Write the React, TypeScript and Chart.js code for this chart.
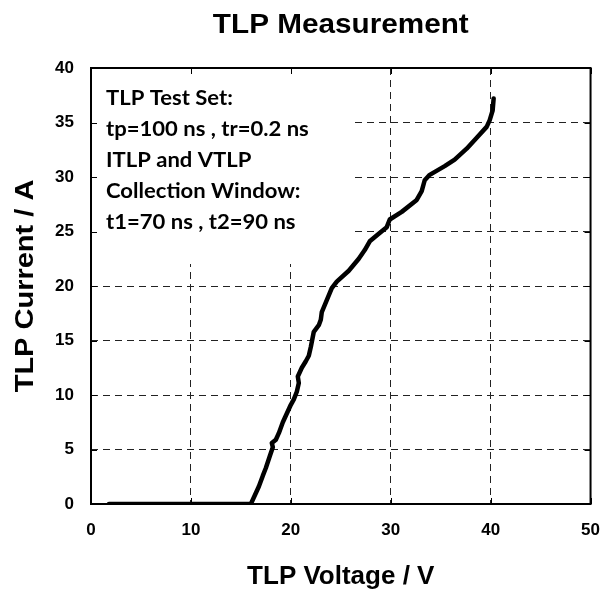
import React, { useEffect, useRef } from "react";
import { Chart, registerables } from "chart.js";

Chart.register(...registerables);

const chartTitle = "TLP Measurement";
const xAxisTitle = "TLP Voltage / V";
const yAxisTitle = "TLP Current / A";
const annotationLines = [
  "TLP Test Set:",
  "tp=100 ns , tr=0.2 ns",
  "ITLP and VTLP",
  "Collection Window:",
  "t1=70 ns , t2=90 ns",
];

const voltage = [
  1.8, 16.0, 16.4, 16.8, 17.2, 17.5, 17.9, 18.2, 18.1, 18.5, 18.8, 19.2, 19.6,
  20.0, 20.3, 20.6, 20.8, 20.7, 21.1, 21.5, 21.8, 22.0, 22.3, 22.8, 23.0, 23.1,
  23.6, 24.1, 24.6, 25.8, 26.8, 27.4, 27.9, 28.8, 29.6, 29.9, 31.1, 32.6, 33.1,
  33.4, 33.9, 35.4, 36.4, 37.6, 38.7, 39.6, 39.9, 40.2, 40.3,
];
const current = [
  0.0, 0.0, 0.8, 1.6, 2.6, 3.3, 4.4, 5.2, 5.6, 5.9, 6.5, 7.5, 8.3, 9.1, 9.6,
  10.3, 11.1, 11.7, 12.5, 13.1, 13.6, 14.4, 15.8, 16.4, 16.9, 17.6, 18.7, 19.8,
  20.4, 21.4, 22.5, 23.3, 24.1, 24.8, 25.4, 26.1, 26.8, 27.9, 28.7, 29.7, 30.2,
  31.0, 31.6, 32.6, 33.7, 34.6, 35.2, 36.1, 37.2,
];

const xMin = 0, xMax = 50, xStep = 10;
const yMin = 0, yMax = 40, yStep = 5;

const ARIAL = "'Liberation Sans', Arial, sans-serif";
const CALIBRI = "Lato, 'Open Sans', sans-serif";

const overlayPlugin = {
  id: "overlay",
  beforeDatasetsDraw(chart: any) {
    const { ctx, chartArea: a, scales } = chart;
    ctx.save();
    // white annotation box hiding grid
    ctx.fillStyle = "#ffffff";
    ctx.fillRect(a.left + 1, a.top + 1, 258, 195);
    // inward tick marks
    ctx.strokeStyle = "#000";
    ctx.lineWidth = 1;
    const tl = 6;
    scales.y.ticks.forEach((t: any) => {
      const y = Math.round(scales.y.getPixelForValue(t.value)) + 0.5;
      ctx.beginPath();
      ctx.moveTo(a.left, y);
      ctx.lineTo(a.left + tl, y);
      ctx.moveTo(a.right - tl, y);
      ctx.lineTo(a.right, y);
      ctx.stroke();
    });
    scales.x.ticks.forEach((t: any) => {
      const x = Math.round(scales.x.getPixelForValue(t.value)) + 0.5;
      ctx.beginPath();
      ctx.moveTo(x, a.top);
      ctx.lineTo(x, a.top + tl);
      ctx.moveTo(x, a.bottom - tl);
      ctx.lineTo(x, a.bottom);
      ctx.stroke();
    });
    // plot border
    ctx.lineWidth = 2;
    ctx.strokeRect(a.left, a.top, a.right - a.left, a.bottom - a.top);
    // annotation text
    ctx.fillStyle = "#000";
    ctx.font = "bold 21px " + CALIBRI;
    ctx.textAlign = "left";
    ctx.textBaseline = "alphabetic";
    annotationLines.forEach((line, i) => {
      ctx.save();
      ctx.translate(a.left + 15, a.top + 37 + i * 31);
      ctx.scale(1.05, 1);
      ctx.fillText(line, 0, 0);
      ctx.restore();
    });
    ctx.textAlign = "center";
    ctx.textBaseline = "middle";
    // chart title
    ctx.save();
    ctx.font = "bold 27px " + ARIAL;
    ctx.translate((a.left + a.right) / 2, 26);
    ctx.scale(1.1, 1);
    ctx.fillText(chartTitle, 0, 0);
    ctx.restore();
    // x axis title
    ctx.save();
    ctx.font = "bold 25px " + ARIAL;
    ctx.translate((a.left + a.right) / 2, 577);
    ctx.scale(1.04, 1);
    ctx.fillText(xAxisTitle, 0, 0);
    ctx.restore();
    // y axis title
    ctx.save();
    ctx.font = "bold 25px " + ARIAL;
    ctx.translate(26, (a.top + a.bottom) / 2);
    ctx.rotate(-Math.PI / 2);
    ctx.scale(1.16, 1);
    ctx.fillText(yAxisTitle, 0, 0);
    ctx.restore();
    ctx.restore();
  },
};

export default function App() {
  const canvasRef = useRef<HTMLCanvasElement | null>(null);

  useEffect(() => {
    if (!canvasRef.current) return;
    const points = voltage.map((v, i) => ({ x: v, y: current[i] }));
    const gridCommon = {
      color: "#222",
      lineWidth: 1,
      drawTicks: false,
    };
    const chart = new Chart(canvasRef.current, {
      type: "line",
      data: {
        datasets: [
          {
            data: points,
            borderColor: "#000",
            borderWidth: 4.5,
            pointRadius: 0,
            tension: 0,
            fill: false,
            borderJoinStyle: "round",
            borderCapStyle: "round",
          },
        ],
      },
      options: {
        animation: false,
        responsive: false,
        maintainAspectRatio: false,
        layout: { padding: { top: 68, right: 23, bottom: 0, left: 0 } },
        plugins: {
          legend: { display: false },
          title: { display: false },
          tooltip: { enabled: false },
        },
        scales: {
          x: {
            type: "linear",
            min: xMin,
            max: xMax,
            afterFit: (s: any) => {
              s.height = 89;
            },
            ticks: {
              stepSize: xStep,
              padding: 16,
              color: "#000",
              font: { family: ARIAL, size: 17, weight: "bold" },
            },
            grid: { ...gridCommon },
            border: { display: false, dash: [7, 5] },
            title: { display: false },
          },
          y: {
            type: "linear",
            min: yMin,
            max: yMax,
            afterFit: (s: any) => {
              s.width = 91;
            },
            ticks: {
              stepSize: yStep,
              padding: 17,
              color: "#000",
              font: { family: ARIAL, size: 17, weight: "bold" },
            },
            grid: { ...gridCommon },
            border: { display: false, dash: [7, 5] },
            title: { display: false },
          },
        },
      } as any,
      plugins: [overlayPlugin],
    });
    return () => chart.destroy();
  }, []);

  return (
    <div
      style={{
        position: "absolute",
        left: 0,
        top: 0,
        width: 616,
        height: 593,
        background: "#fff",
      }}
    >
      <canvas ref={canvasRef} width={616} height={593} />
    </div>
  );
}
